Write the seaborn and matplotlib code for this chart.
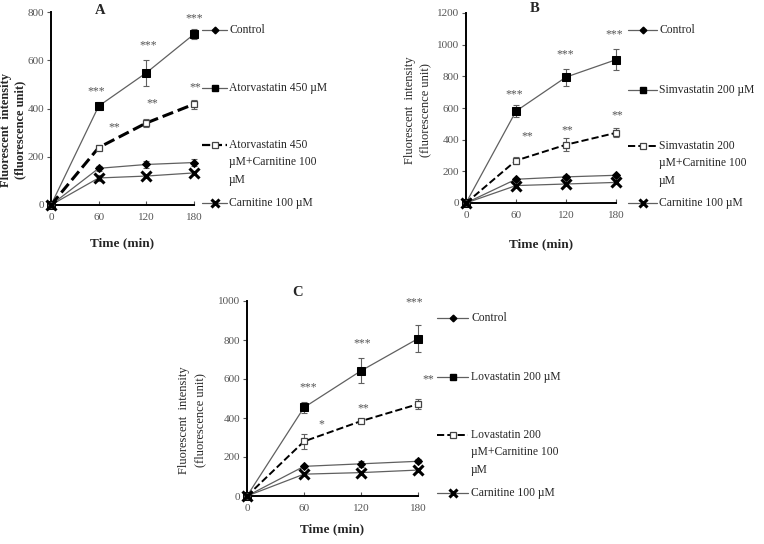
import matplotlib
matplotlib.use('Agg')
import matplotlib.pyplot as plt
from matplotlib.lines import Line2D
import seaborn as sns
import pandas as pd

# ── data ──────────────────────────────────────────────────────
time_min = [0, 60, 120, 180]

# panel A: atorvastatin
a_control = [0, 152, 168, 176]
a_control_err = [0, 10, 14, 14]
a_drug = [0, 410, 548, 708]
a_drug_err = [0, 18, 54, 21]
a_combo = [0, 238, 340, 418]
a_combo_err = [0, 12, 18, 18]
a_carn = [0, 112, 120, 133]
a_carn_err = [0, 12, 6, 10]

# panel B: simvastatin
b_control = [0, 150, 165, 175]
b_control_err = [0, 8, 10, 10]
b_drug = [0, 580, 795, 905]
b_drug_err = [0, 37, 53, 68]
b_combo = [0, 268, 368, 443]
b_combo_err = [0, 24, 40, 28]
b_carn = [0, 110, 120, 130]
b_carn_err = [0, 8, 6, 8]

# panel C: lovastatin
c_control = [0, 152, 165, 178]
c_control_err = [0, 8, 14, 10]
c_drug = [0, 454, 642, 807]
c_drug_err = [0, 28, 64, 70]
c_combo = [0, 280, 384, 471]
c_combo_err = [0, 38, 8, 26]
c_carn = [0, 112, 120, 133]
c_carn_err = [0, 10, 6, 8]

# significance stars: (time, value, text)
a_stars = [(57, 473, '***'), (122, 661, '***'), (180, 772, '***'),
           (80, 320, '**'), (127, 421, '**'), (182, 487, '**')]
b_stars = [(58, 686, '***'), (119, 941, '***'), (178, 1065, '***'),
           (74, 418, '**'), (122, 456, '**'), (182, 551, '**')]
c_stars = [(64, 556, '***'), (121, 781, '***'), (176, 995, '***'),
           (78, 369, '*'), (122, 452, '**'), (191, 597, '**')]

a_labels = ['Control', 'Atorvastatin 450 \u00b5M',
            'Atorvastatin 450\n\u00b5M+Carnitine 100\n\u00b5M', 'Carnitine 100 \u00b5M']
b_labels = ['Control', 'Simvastatin 200 \u00b5M',
            'Simvastatin 200\n\u00b5M+Carnitine 100\n\u00b5M', 'Carnitine 100 \u00b5M']
c_labels = ['Control', 'Lovastatin 200 \u00b5M',
            'Lovastatin 200\n\u00b5M+Carnitine 100\n\u00b5M', 'Carnitine 100 \u00b5M']

# ── styling ───────────────────────────────────────────────────
sns.set_style('ticks')
plt.rcParams['font.family'] = ['Liberation Serif', 'DejaVu Serif']

W, H = 764, 544
fig = plt.figure(figsize=(W / 100, H / 100), dpi=100)

LINE_GREY = '#606060'
TICK_GREY = '#555555'


def fx(px):
    return px / W


def fy(py):
    return 1 - py / H


def series_styles(combo_lw):
    return [
        dict(marker='D', markersize=4, color=LINE_GREY, linestyle='-', lw=0.9,
             mfc='black', mec='black'),
        dict(marker='s', markersize=5.5, color=LINE_GREY, linestyle='-', lw=0.9,
             mfc='black', mec='black'),
        dict(marker='s', markersize=5, color='black', linestyle='--', lw=combo_lw,
             mfc='white', mec='#444444', mew=0.9),
        dict(marker='x', markersize=7, color=LINE_GREY, linestyle='-', lw=0.9,
             mfc='black', mec='black', mew=2.2),
    ]


def draw_panel(box, ymax, series, errs, stars, letter, letter_xy,
               ylab_xy, ylab_bold, xlab_xy, legend, labels, combo_lw):
    left, right, top, bottom = box
    ax = fig.add_axes([fx(left), fy(bottom), fx(right - left), (bottom - top) / H])
    styles = series_styles(combo_lw)
    for vals, err, st in zip(series, errs, styles):
        df = pd.DataFrame({'time': time_min, 'value': vals})
        ax.errorbar(time_min, vals, yerr=err, fmt='none', ecolor=LINE_GREY,
                    elinewidth=0.8, capsize=2.2, capthick=0.8, clip_on=False, zorder=2)
        sns.lineplot(data=df, x='time', y='value', ax=ax, legend=False, zorder=3, **st)
    for ln in ax.lines:
        ln.set_clip_on(False)

    ax.set_xlim(0, 180)
    ax.set_ylim(0, ymax)
    ax.set_xticks(time_min)
    ax.set_yticks(range(0, ymax + 1, 200))
    ax.set_xlabel('')
    ax.set_ylabel('')
    ax.tick_params(axis='both', labelsize=8, colors=TICK_GREY, labelcolor=TICK_GREY,
                   length=3, width=0.8, pad=2)
    ax.tick_params(axis='x', direction='in', pad=6)
    ax.tick_params(axis='y', direction='out')
    for s in ['left', 'bottom']:
        ax.spines[s].set_linewidth(1.4)
        ax.spines[s].set_color('black')
    sns.despine(ax=ax)
    ax.set_facecolor('none')

    for tx, ty, txt in stars:
        ax.text(tx, ty, txt, ha='center', va='center', fontsize=8.5, color=TICK_GREY)

    fig.text(fx(letter_xy[0]), fy(letter_xy[1]), letter, ha='center', va='center',
             fontsize=10.5, fontweight='bold')

    weight = 'bold' if ylab_bold else 'normal'
    fig.text(fx(ylab_xy[0]), fy(ylab_xy[2]), 'Fluorescent  intensity', rotation=90,
             ha='center', va='center', fontsize=9, fontweight=weight)
    fig.text(fx(ylab_xy[1]), fy(ylab_xy[2]), '(fluorescence unit)', rotation=90,
             ha='center', va='center', fontsize=9, fontweight=weight)
    fig.text(fx(xlab_xy[0]), fy(xlab_xy[1]), 'Time (min)', ha='center', va='center',
             fontsize=9.5, fontweight='bold')

    # Excel-style legend, handle aligned with first text line
    lx0, lx1, tx0, rows = legend
    for lab, row, st in zip(labels, rows, styles):
        st = dict(st)
        st['lw'] = min(st['lw'], 1.6)
        fig.add_artist(Line2D([fx(lx0), fx(lx1)], [fy(row), fy(row)],
                              transform=fig.transFigure, linestyle=st['linestyle'],
                              color=st['color'], lw=st['lw']))
        fig.add_artist(Line2D([fx((lx0 + lx1) / 2)], [fy(row)], transform=fig.transFigure,
                              marker=st['marker'], markersize=st['markersize'] * 0.85,
                              mfc=st['mfc'], mec=st['mec'], mew=st.get('mew', 1),
                              linestyle='none'))
        for i, part in enumerate(lab.split('\n')):
            fig.text(fx(tx0), fy(row + i * 17.4), part, ha='left', va='center',
                     fontsize=8.4)
    return ax


draw_panel((51, 194, 12, 205), 800,
           [a_control, a_drug, a_combo, a_carn],
           [a_control_err, a_drug_err, a_combo_err, a_carn_err],
           a_stars, 'A', (100, 10), (6, 20, 130), True, (122, 243),
           (202, 227, 229, [30, 88, 145, 203]), a_labels, 2.2)

draw_panel((466, 616, 13, 203), 1200,
           [b_control, b_drug, b_combo, b_carn],
           [b_control_err, b_drug_err, b_combo_err, b_carn_err],
           b_stars, 'B', (535, 9), (410, 425, 110), False, (541, 244),
           (628, 657, 659, [30, 90, 146, 203]), b_labels, 1.4)

draw_panel((247, 418, 301, 496), 1000,
           [c_control, c_drug, c_combo, c_carn],
           [c_control_err, c_drug_err, c_combo_err, c_carn_err],
           c_stars, 'C', (298, 293), (184, 200, 420), False, (332, 529),
           (437, 468, 471, [318, 377, 435, 493]), c_labels, 1.4)

fig.savefig('out.png', dpi=100, facecolor='white')
